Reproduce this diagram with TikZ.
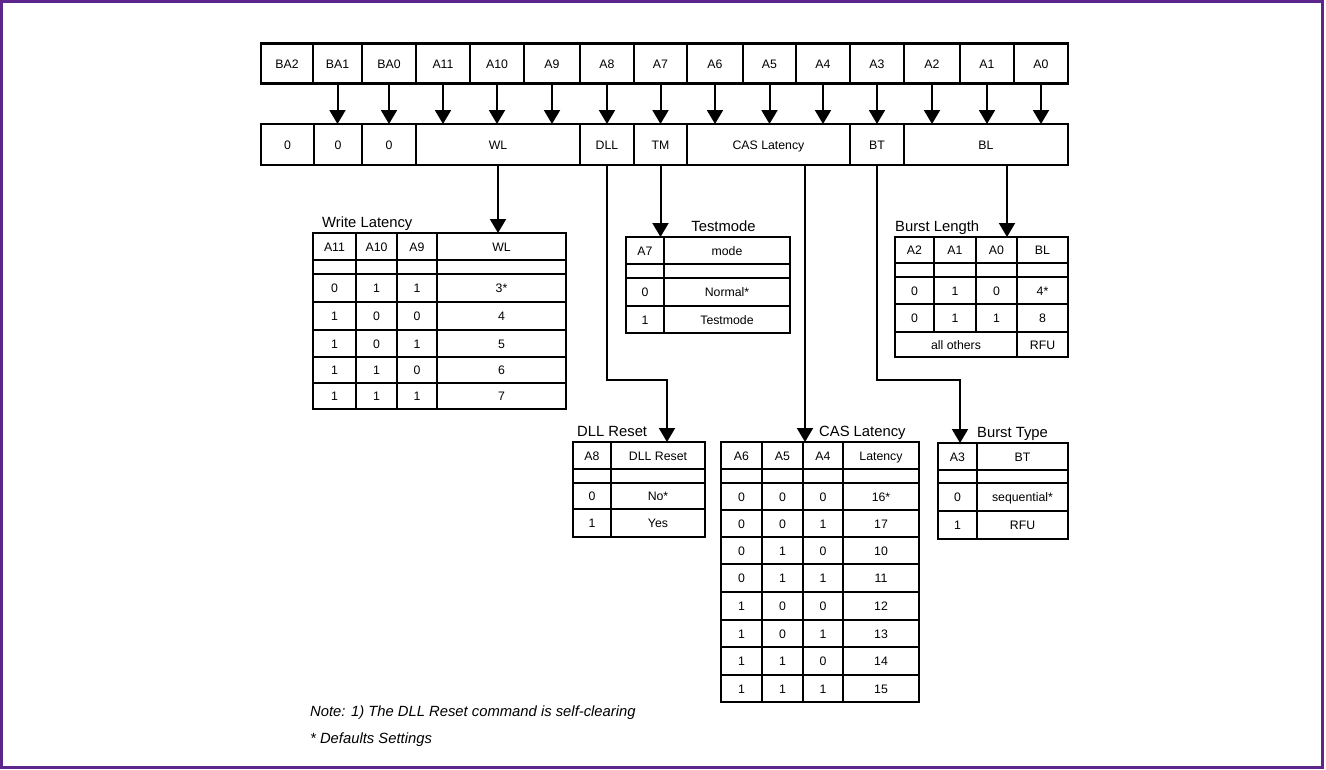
\documentclass[tikz,border=0pt]{standalone}
\usepackage{fontspec}
\setmainfont{Liberation Sans}
\usetikzlibrary{arrows.meta}
\definecolor{framepurple}{RGB}{92,38,140}

%% one lookup table: name, column edges, row edges, rows
\newcommand{\regtab}[4]{%
  \foreach \row [count=\r] in {#4} {%
    \foreach \v [count=\c] in \row {%
      \pgfmathsetmacro\xa{{#2}[\c-1]}%
      \pgfmathsetmacro\xb{{#2}[\c]}%
      \pgfmathsetmacro\ya{{#3}[\r-1]}%
      \pgfmathsetmacro\yb{{#3}[\r]}%
      \node[cell, minimum width=\xb-\xa, minimum height=\yb-\ya]
        (#1-\r-\c) at ({(\xa+\xb)/2},{(\ya+\yb)/2}) {\v};
    }%
  }%
}

\begin{document}
\begin{tikzpicture}%
	[x=1pt, y=-1pt,
	reg/.style={draw, line width=2.2pt, inner sep=0pt, outer sep=0pt, text height=9pt, text depth=0pt, font=\fontsize{12.3}{14}\selectfont},
	cell/.style={draw, line width=2.2pt, inner sep=0pt, outer sep=0pt, text height=9pt, text depth=0pt, font=\fontsize{12.3}{14}\selectfont},
	ttl/.style={inner sep=0pt, font=\fontsize{14.8}{17}\selectfont},
	note/.style={inner sep=0pt, anchor=base west, font=\fontsize{14.8}{17}\selectfont\itshape},
	arr/.style={line width=2pt, -{Triangle[length=14pt,width=16pt]}}]
%
\useasboundingbox (0,0) rectangle (1326,769);
\draw[framepurple, line width=3pt] (1.5,1.5) rectangle (1322.5,767.5);
%%
%% address bits
%%
\foreach \n/\xa/\xb in {BA2/261/313,BA1/313/362,BA0/362/416,A11/416/470,A10/470/524,A9/524/580,A8/580/634,A7/634/687,A6/687/743,A5/743/796,A4/796/850,A3/850/904,A2/904/960,A1/960/1014,A0/1014/1068}
	\node[reg, minimum width=\xb-\xa, minimum height=40] (top-\n) at ({(\xa+\xb)/2},63.5) {\n};
%%
%% register fields
%%
\foreach \n/\t/\xa/\xb in {z2/0/261/314,z1/0/314/362,z0/0/362/416,WL/WL/416/580,DLL/DLL/580/634,TM/TM/634/687,CAS/CAS Latency/687/850,BT/BT/850/904,BL/BL/904/1068}
	\node[reg, minimum width=\xb-\xa, minimum height=41] (mid-\n) at ({(\xa+\xb)/2},144.5) {\t};
%
\foreach \n in {BA1,BA0,A11,A10,A9,A8,A7,A6,A5,A4,A3,A2,A1,A0}
	\draw[arr] (top-\n.south) -- (top-\n.south |- mid-WL.north);
%%
%% Write Latency
%%
\node[ttl, anchor=base west] (wl-title) at (322,227) {Write Latency};
\regtab{wl}{313,356,397,437,566}{233,260,274,302,330,357,383,409}{{A11,A10,A9,WL},{{},{},{},{}},{0,1,1,3*},{1,0,0,4},{1,0,1,5},{1,1,0,6},{1,1,1,7}}
%%
%% Testmode
%%
\node[ttl, anchor=base] (tm-title) at (723.5,231.5) {Testmode};
\regtab{tm}{626,664,790}{237,264,278,306,333}{{A7,mode},{{},{}},{0,Normal*},{1,Testmode}}
%%
%% Burst Length
%%
\node[ttl, anchor=base west] (bl-title) at (895,231.5) {Burst Length};
\regtab{bl}{895,934,976,1017,1068}{237,263,277,304,332}{{A2,A1,A0,BL},{{},{},{},{}},{0,1,0,4*},{0,1,1,8}}
\node[cell, minimum width=122, minimum height=25] (bl-5-1) at (956,344.5) {all others};
\node[cell, minimum width=51, minimum height=25] (bl-5-4) at (1042.5,344.5) {RFU};
%%
%% DLL Reset
%%
\node[ttl, anchor=base west] (dll-title) at (577,436.5) {DLL Reset};
\regtab{dll}{573,611,705}{442,469,483,509,537}{{A8,DLL Reset},{{},{}},{0,No*},{1,Yes}}
%%
%% CAS Latency
%%
\node[ttl, anchor=base west] (cas-title) at (819,436.5) {CAS Latency};
\regtab{cas}{721,762,803,843,919}{442,469,483,510,537,564,592,620,647,675,702}{{A6,A5,A4,Latency},{{},{},{},{}},{0,0,0,16*},{0,0,1,17},{0,1,0,10},{0,1,1,11},{1,0,0,12},{1,0,1,13},{1,1,0,14},{1,1,1,15}}
%%
%% Burst Type
%%
\node[ttl, anchor=base west] (bt-title) at (977,437.5) {Burst Type};
\regtab{bt}{938,977,1068}{443,470,483,511,539}{{A3,BT},{{},{}},{0,sequential*},{1,RFU}}
%%
%% field to table
%%
\coordinate (dll-in) at (667,442);
\coordinate (cas-in) at (805,442);
\coordinate (bt-in) at (960,443);
\coordinate (bl-in) at (1007,237);
\draw[arr] (mid-WL.south) -- (mid-WL.south |- wl-1-4.north);
\draw[arr] (mid-TM.south) -- (mid-TM.south |- tm-1-1.north);
\draw[arr] (mid-DLL.south) -- ++(0,215) -| (dll-in);
\draw[arr] (cas-in |- mid-CAS.south) -- (cas-in);
\draw[arr] (mid-BT.south) -- ++(0,215) -| (bt-in);
\draw[arr] (bl-in |- mid-BL.south) -- (bl-in);
%%
%% notes
%%
\node[note] (note1) at (310,716) {Note: 1) The DLL Reset command is self-clearing};
\node[note] (note2) at (310,743) {* Defaults Settings};
\end{tikzpicture}
\end{document}
